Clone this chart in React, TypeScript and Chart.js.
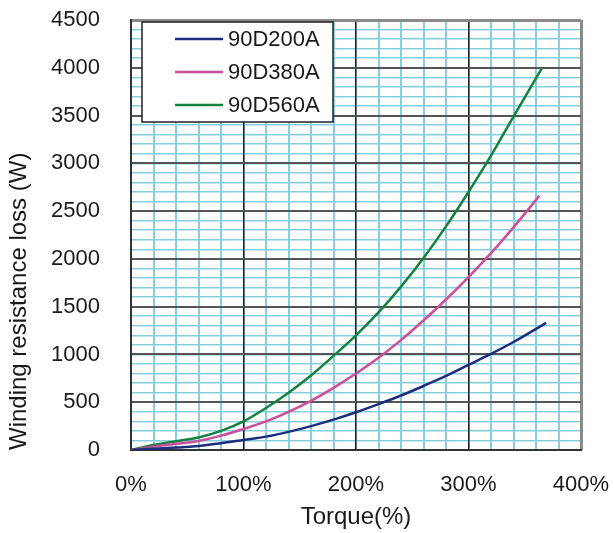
import React, { useEffect, useRef } from "react";
import { Chart, registerables } from "chart.js";

Chart.register(...registerables);

// ---- data ----
const torque200 = [0, 20, 40, 60, 80, 100, 120, 140, 160, 180, 200, 220, 240, 260, 280, 300, 320, 340, 369];
const loss200 = [0, 12, 25, 42, 70, 105, 140, 190, 250, 318, 395, 480, 570, 670, 775, 890, 1005, 1130, 1330];

const torque380 = [0, 20, 40, 60, 80, 100, 120, 140, 160, 180, 200, 220, 240, 260, 280, 300, 320, 340, 363];
const loss380 = [0, 35, 65, 95, 150, 220, 300, 400, 515, 650, 800, 965, 1150, 1355, 1575, 1810, 2060, 2330, 2660];

const torque560 = [0, 20, 40, 60, 80, 100, 120, 140, 160, 180, 200, 220, 240, 260, 280, 300, 320, 340, 365];
const loss560 = [0, 52, 92, 130, 200, 300, 440, 600, 780, 985, 1200, 1440, 1710, 2010, 2340, 2700, 3080, 3490, 3990];

const seriesLabels = ["90D200A", "90D380A", "90D560A"];
const seriesColors = ["#1b2e7e", "#cc4d9c", "#13813f"];

const xTickLabels = ["0%", "100%", "200%", "300%", "400%"];
const yTickLabels = ["0", "500", "1000", "1500", "2000", "2500", "3000", "3500", "4000", "4500"];

const xTitle = "Torque(%)";
const yTitle = "Winding resistance loss (W)";

const FONT = "'Liberation Sans', Arial, Helvetica, sans-serif";
const MINOR = "#86cfdf";

const toPoints = (xs: number[], ys: number[]) => xs.map((x, i) => ({ x, y: ys[i] }));

const boxLegend = {
  id: "boxLegend",
  afterDatasetsDraw(chart: any) {
    const { ctx, chartArea } = chart;
    const bx = chartArea.left + 11;
    const by = chartArea.top + 2;
    const bw = 191;
    const bh = 100;
    ctx.save();
    ctx.fillStyle = "#ffffff";
    ctx.fillRect(bx, by, bw, bh);
    ctx.strokeStyle = "#222";
    ctx.lineWidth = 1.5;
    ctx.strokeRect(bx, by, bw, bh);
    ctx.font = `22px ${FONT}`;
    ctx.textBaseline = "middle";
    ctx.textAlign = "left";
    chart.data.datasets.forEach((ds: any, i: number) => {
      const y = by + 17 + i * 33;
      ctx.strokeStyle = ds.borderColor;
      ctx.lineWidth = 2.5;
      ctx.beginPath();
      ctx.moveTo(bx + 33, y);
      ctx.lineTo(bx + 81, y);
      ctx.stroke();
      ctx.fillStyle = "#1a1a1a";
      ctx.fillText(ds.label, bx + 86, y + 1);
    });
    ctx.restore();
  },
};

const noPad = (s: any) => {
  s.paddingLeft = 0;
  s.paddingRight = 0;
  s.paddingTop = 0;
  s.paddingBottom = 0;
};

export default function App() {
  const canvasRef = useRef<HTMLCanvasElement | null>(null);

  useEffect(() => {
    if (!canvasRef.current) return;
    const datasets = [
      toPoints(torque200, loss200),
      toPoints(torque380, loss380),
      toPoints(torque560, loss560),
    ].map((data, i) => ({
      label: seriesLabels[i],
      data,
      borderColor: seriesColors[i],
      backgroundColor: seriesColors[i],
      borderWidth: 2.5,
      pointRadius: 0,
      cubicInterpolationMode: "monotone" as const,
      fill: false,
      xAxisID: "x",
      yAxisID: "y",
    }));

    const chart = new Chart(canvasRef.current, {
      type: "line",
      data: { datasets },
      plugins: [boxLegend],
      options: {
        animation: false,
        responsive: false,
        devicePixelRatio: 1,
        layout: { padding: { left: 0, right: 33, top: 20, bottom: 0 } },
        plugins: {
          legend: { display: false },
          tooltip: { enabled: false },
        },
        scales: {
          x: {
            type: "linear",
            position: "bottom",
            min: 0,
            max: 400,
            afterFit: (s: any) => {
              s.height = 83;
              noPad(s);
            },
            ticks: {
              stepSize: 20,
              autoSkip: false,
              maxRotation: 0,
              padding: 22,
              color: "#1a1a1a",
              font: { family: FONT, size: 22 },
              callback: (v: any) => (v % 100 === 0 ? xTickLabels[v / 100] : ""),
            },
            grid: {
              drawTicks: false,
              color: MINOR,
              lineWidth: 2,
            },
            border: { display: true, color: "#333", width: 2 },
            title: {
              display: true,
              text: xTitle,
              color: "#1a1a1a",
              font: { family: FONT, size: 24 },
              padding: { top: 0, bottom: 1 },
            },
          },
          y: {
            type: "linear",
            position: "left",
            min: 0,
            max: 4500,
            afterFit: (s: any) => {
              s.width = 131;
              noPad(s);
            },
            ticks: {
              stepSize: 100,
              autoSkip: false,
              padding: 31,
              color: "#1a1a1a",
              font: { family: FONT, size: 22 },
              callback: (v: any) => (v % 500 === 0 ? yTickLabels[v / 500] : ""),
            },
            grid: {
              drawTicks: false,
              color: MINOR,
              lineWidth: 1.5,
            },
            border: { display: true, color: "#333", width: 2 },
            title: {
              display: true,
              text: yTitle,
              align: "start",
              color: "#1a1a1a",
              font: { family: FONT, size: 24 },
              padding: { top: 5, bottom: 0 },
            },
          },
          xMajor: {
            type: "linear",
            position: "bottom",
            min: 0,
            max: 400,
            afterFit: (s: any) => {
              s.height = 0;
              noPad(s);
            },
            ticks: { display: false, stepSize: 100 },
            grid: {
              drawTicks: false,
              color: (c: any) => (c.tick?.value === 400 ? "#8a8a8a" : "#222"),
              lineWidth: (c: any) => (c.tick?.value === 400 ? 3 : 1.5),
            },
            border: { display: false },
          },
          yMajor: {
            type: "linear",
            position: "left",
            min: 0,
            max: 4500,
            afterFit: (s: any) => {
              s.width = 0;
              noPad(s);
            },
            ticks: { display: false, stepSize: 500 },
            grid: {
              drawTicks: false,
              color: (c: any) => (c.tick?.value === 4500 ? "#8a8a8a" : "#555"),
              lineWidth: (c: any) => (c.tick?.value === 4500 ? 3 : 2),
            },
            border: { display: false },
          },
        },
      },
    });
    return () => chart.destroy();
  }, []);

  return (
    <div style={{ position: "absolute", left: 0, top: 0, width: 614, height: 533, background: "#fff" }}>
      <canvas ref={canvasRef} width={614} height={533} style={{ display: "block" }} />
    </div>
  );
}
